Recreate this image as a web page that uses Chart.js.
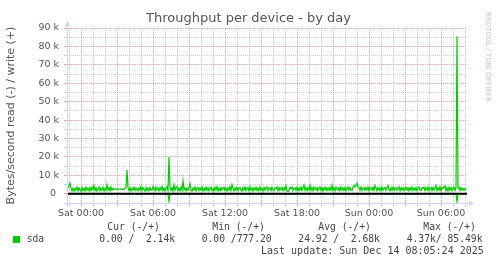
<!DOCTYPE html>
<html lang="en">
<head>
    <meta charset="utf-8" />
    <title>Throughput per device - by day</title>
    <script src="https://cdn.jsdelivr.net/npm/chart.js@4/dist/chart.umd.min.js"></script>
    <style>
        html, body { margin: 0; padding: 0; background: #fff; }
        #wrap { width: 497px; height: 264px; }
    </style>
</head>
<body>
    <div id="wrap"><canvas id="chart" width="497" height="264"></canvas></div>
    <script>
        // --- data (5 minute samples, minutes relative to Sat 00:00) ---
        const startMinute = -70;
        const stepMinutes = 5;

        // write (+), kB/s
        const writeK = [
            2.2, 3.4, 4.4, 5.8, 3.2, 1.6, 3.1, 1.4, 2.9, 2.0, 3.6, 1.5,
            3.2, 2.1, 1.3, 3.5, 1.8, 3.0, 1.5, 3.6, 2.0, 3.1, 1.6, 3.4,
            1.7, 3.6, 2.2, 4.5, 1.8, 3.3, 1.4, 2.8, 3.8, 1.6, 3.1, 2.0,
            3.6, 1.5, 3.0, 1.9, 4.9, 2.1, 3.3, 1.6, 3.7, 2.0, 3.0, 2.4,
            2.5, 2.7, 2.5, 2.4, 2.6, 2.5, 2.7, 2.4, 2.5, 2.2, 3.0, 3.8,
            13.0, 3.2, 1.8, 3.4, 1.5, 3.0, 2.0, 3.6, 1.7, 3.2, 2.1, 1.6,
            3.3, 2.0, 4.0, 1.7, 3.4, 2.3, 1.4, 3.5, 1.8, 3.2, 1.6, 3.4,
            2.2, 1.8, 4.0, 3.0, 1.5, 3.7, 2.0, 3.2, 1.6, 3.4, 2.1, 3.9,
            1.7, 3.1, 1.5, 2.9, 3.8, 1.6, 20.0, 3.9, 1.8, 3.3, 1.4, 4.9,
            2.0, 3.5, 4.0, 1.7, 3.1, 1.6, 3.6, 1.8, 7.0, 2.1, 3.3, 1.5,
            3.1, 1.9, 3.6, 5.4, 1.8, 1.4, 3.2, 2.0, 3.7, 1.6, 2.9, 3.5,
            1.7, 3.2, 2.0, 3.8, 1.5, 3.1, 1.8, 3.6, 1.9, 3.4, 1.6, 3.1,
            3.7, 1.8, 2.9, 1.4, 3.5, 2.0, 3.9, 1.7, 3.2, 1.6, 3.4, 1.9,
            3.1, 3.6, 1.7, 3.0, 1.5, 3.4, 2.0, 3.8, 1.8, 4.9, 3.0, 1.6,
            3.3, 1.9, 3.6, 1.6, 3.1, 3.5, 1.8, 1.4, 3.4, 2.0, 3.7, 1.7,
            2.9, 3.5, 1.6, 3.9, 1.9, 3.1, 1.5, 3.4, 2.0, 3.6, 1.8, 3.2,
            1.6, 3.7, 2.0, 3.1, 1.4, 3.5, 1.9, 3.2, 3.8, 1.7, 2.9, 3.4,
            1.8, 3.6, 2.0, 1.5, 3.3, 2.9, 3.7, 1.6, 3.4, 1.9, 3.1, 3.6,
            1.7, 3.3, 2.0, 4.3, 1.6, 1.2, 1.8, 3.5, 2.9, 3.8, 1.7, 3.1,
            3.4, 1.9, 3.6, 1.6, 3.3, 2.0, 3.7, 1.8, 3.1, 4.6, 1.9, 3.5,
            1.7, 3.3, 2.0, 4.5, 1.8, 3.4, 1.6, 3.6, 2.9, 1.9, 3.5, 1.7,
            3.1, 3.7, 1.8, 3.3, 1.5, 3.4, 2.0, 3.6, 1.7, 3.1, 1.9, 3.5,
            2.0, 4.5, 1.8, 3.3, 1.6, 3.6, 2.9, 1.9, 3.4, 1.7, 3.7, 2.0,
            3.3, 1.8, 3.5, 1.6, 3.1, 3.8, 1.9, 3.4, 2.0, 1.7, 3.6, 4.5,
            3.6, 4.6, 5.8, 4.0, 3.4, 1.9, 3.6, 1.7, 3.1, 3.5, 1.8, 3.3,
            2.0, 3.7, 1.6, 3.4, 2.9, 1.8, 3.6, 1.9, 4.5, 3.1, 1.7, 3.5,
            2.0, 3.3, 1.6, 3.7, 1.9, 3.1, 3.5, 1.8, 3.3, 4.5, 2.0, 1.6,
            3.4, 1.9, 3.6, 1.7, 3.1, 3.5, 1.8, 2.9, 3.8, 1.6, 3.3, 2.0,
            3.5, 1.7, 3.1, 3.6, 1.9, 3.3, 1.6, 3.4, 2.0, 3.7, 1.8, 3.1,
            1.9, 3.5, 1.7, 3.3, 3.8, 2.0, 1.6, 3.4, 2.9, 3.6, 1.8, 3.3,
            2.0, 3.7, 1.6, 3.1, 3.5, 1.8, 3.4, 1.9, 3.6, 4.5, 1.7, 3.3,
            2.0, 3.8, 1.6, 3.4, 2.9, 3.9, 4.3, 1.8, 3.3, 1.5, 3.6, 2.0,
            3.5, 1.7, 3.1, 3.7, 1.8, 3.4, 85.49, 3.1, 3.6, 1.8, 3.3, 2.0,
            3.1, 1.9, 2.9, 2.14
        ];

        // read (-): only a couple of non-zero samples, [minute, kB/s]
        const readEvents = [[440, 4.0], [1880, 4.37]];

        // axis
        const yMin = -5000;
        const yMax = 90000;
        const xMin = -70;
        const xMax = 1930;
        const tickLabelMinutes = [0, 360, 720, 1080, 1440, 1800];
        const tickLabels = ['Sat 00:00', 'Sat 06:00', 'Sat 12:00', 'Sat 18:00', 'Sun 00:00', 'Sun 06:00'];

        // legend
        const seriesName = 'sda';
        const legendHeaders = ['Cur (-/+)', 'Min (-/+)', 'Avg (-/+)', 'Max (-/+)'];
        const sdaStats = ['0.00 /  2.14k', '0.00 /777.20', '24.92 /  2.68k', '4.37k/ 85.49k'];
        const lastUpdate = 'Last update: Sun Dec 14 08:05:24 2025';

        const GREEN = '#00cc00';
        const SANS = '"DejaVu Sans", sans-serif';
        const MONO = '"DejaVu Sans Mono", monospace';

        // build points
        const writePts = writeK.map((v, i) => ({ x: startMinute + i * stepMinutes, y: v * 1000 }));
        const readPts = writeK.map((v, i) => {
            const t = startMinute + i * stepMinutes;
            const ev = readEvents.find(e => e[0] === t);
            return { x: t, y: ev ? -ev[1] * 1000 : 0 };
        });

        const hourTicks = [];
        for (let m = -60; m <= xMax; m += 60) hourTicks.push(m);
        const yTicks = [];
        for (let v = yMin; v <= yMax; v += 5000) yTicks.push(v);

        const minorGrid = 'rgba(128,128,128,0.38)';
        const majorGrid = 'rgba(255,0,0,0.38)';

        const rrdDecor = {
            id: 'rrdDecor',
            afterDatasetsDraw(chart) {
                const { ctx, chartArea: a, scales } = chart;
                const y0 = scales.y.getPixelForValue(0);
                ctx.save();
                ctx.strokeStyle = '#000';
                ctx.lineWidth = 2;
                ctx.beginPath();
                ctx.moveTo(a.left, y0);
                ctx.lineTo(a.right, y0);
                ctx.stroke();

                // axes with arrows
                ctx.strokeStyle = '#cfd6f8';
                ctx.fillStyle = '#cfd6f8';
                ctx.lineWidth = 1;
                ctx.beginPath();
                ctx.moveTo(a.left + 0.5, a.bottom + 3);
                ctx.lineTo(a.left + 0.5, a.top - 3);
                ctx.moveTo(a.left - 3, a.bottom + 0.5);
                ctx.lineTo(a.right + 3, a.bottom + 0.5);
                ctx.stroke();
                ctx.beginPath();
                ctx.moveTo(a.left - 2.5, a.top - 2);
                ctx.lineTo(a.left + 3.5, a.top - 2);
                ctx.lineTo(a.left + 0.5, a.top - 7);
                ctx.closePath();
                ctx.fill();
                ctx.beginPath();
                ctx.moveTo(a.right + 2, a.bottom - 2.5);
                ctx.lineTo(a.right + 2, a.bottom + 3.5);
                ctx.lineTo(a.right + 7, a.bottom + 0.5);
                ctx.closePath();
                ctx.fill();
                ctx.restore();
            },
            afterDraw(chart) {
                const { ctx } = chart;
                ctx.save();
                // watermark
                ctx.fillStyle = '#c4c4c4';
                ctx.font = '7px ' + SANS;
                ctx.textAlign = 'center';
                ctx.textBaseline = 'middle';
                ctx.translate(488, 57);
                ctx.rotate(Math.PI / 2);
                ctx.fillText('RRDTOOL / TOBI OETIKER', 0, 0);
                ctx.restore();

                ctx.save();
                ctx.fillStyle = '#444';
                ctx.font = '9.7px ' + MONO;
                ctx.textBaseline = 'middle';
                ctx.textAlign = 'left';
                const headX = [107.3, 212.3, 318.3, 423.3];
                const statX = [99.3, 201.7, 298.3, 406.7];
                legendHeaders.forEach((h, i) => ctx.fillText(h, headX[i], 227.7));
                sdaStats.forEach((s, i) => ctx.fillText(s, statX[i], 239.5));
                ctx.fillText(seriesName, 26.7, 239.5);
                ctx.font = '10px ' + MONO;
                ctx.fillText(lastUpdate, 261, 251.7);
                ctx.fillStyle = GREEN;
                ctx.fillRect(13, 236, 7, 7);
                ctx.restore();
            }
        };

        const gridColor = (major) => (c) => (c.tick && c.tick.value % major === 0) ? majorGrid : minorGrid;

        new Chart(document.getElementById('chart'), {
            type: 'line',
            data: {
                datasets: [
                    { label: 'sda read', data: readPts, borderColor: GREEN, borderWidth: 1.2, pointRadius: 0, tension: 0 },
                    { label: 'sda write', data: writePts, borderColor: GREEN, borderWidth: 1.2, pointRadius: 0, tension: 0 }
                ]
            },
            options: {
                responsive: false,
                animation: false,
                devicePixelRatio: 1,
                events: [],
                layout: { padding: { left: 0, right: 0, top: 0, bottom: 41 } },
                plugins: {
                    legend: { display: false },
                    tooltip: { enabled: false },
                    title: {
                        display: true,
                        text: 'Throughput per device - by day',
                        color: '#555',
                        font: { family: SANS, size: 13, weight: 'normal' },
                        padding: { top: 11.2, bottom: 1.2 }
                    }
                },
                scales: {
                    x: {
                        type: 'linear',
                        min: xMin,
                        max: xMax,
                        afterBuildTicks: s => { s.ticks = hourTicks.map(v => ({ value: v })); },
                        afterFit: s => { s.height = 20; },
                        ticks: {
                            autoSkip: false,
                            maxRotation: 0,
                            padding: 2,
                            color: '#555',
                            font: { family: SANS, size: 9.5 },
                            callback: v => {
                                const k = tickLabelMinutes.indexOf(v);
                                return k >= 0 ? tickLabels[k] : '';
                            }
                        },
                        grid: { color: gridColor(180), tickColor: gridColor(180), tickLength: 3, lineWidth: 1 },
                        border: { display: false, dash: [1, 1] }
                    },
                    y: {
                        min: yMin,
                        max: yMax,
                        afterBuildTicks: s => { s.ticks = yTicks.map(v => ({ value: v })); },
                        afterFit: s => { s.width = 67; },
                        ticks: {
                            autoSkip: false,
                            padding: 5,
                            color: '#555',
                            font: { family: SANS, size: 9.5 },
                            callback: v => {
                                if (v < 0 || v % 10000 !== 0) return '';
                                return v === 0 ? '0 ' : (v / 1000) + ' k';
                            }
                        },
                        grid: { color: gridColor(10000), tickColor: gridColor(10000), tickLength: 3, lineWidth: 1 },
                        border: { display: false, dash: [1, 1] },
                        title: {
                            display: true,
                            text: 'Bytes/second read (-) / write (+)',
                            color: '#555',
                            font: { family: SANS, size: 11 },
                            padding: { top: 5, bottom: 0 }
                        }
                    },
                    yR: {
                        position: 'right',
                        display: true,
                        afterFit: s => { s.width = 30; },
                        grid: { display: false },
                        ticks: { display: false },
                        border: { display: false }
                    }
                }
            },
            plugins: [rrdDecor]
        });
    </script>
</body>
</html>
